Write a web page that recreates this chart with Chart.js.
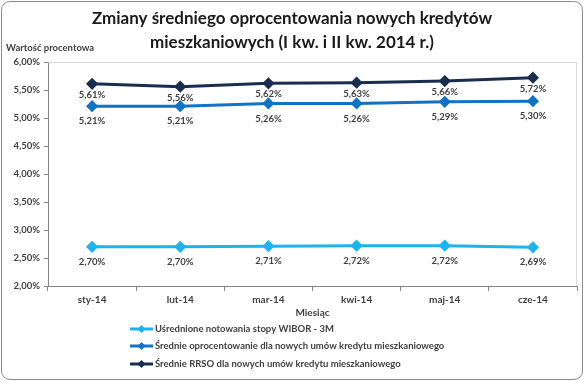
<!DOCTYPE html>
<html>
<head>
<meta charset="utf-8">
<script src="https://cdn.jsdelivr.net/npm/chart.js@4/dist/chart.umd.min.js"></script>
<style>
  html, body { margin: 0; padding: 0; background: #fff; }
  #wrap {
    position: absolute; left: 1px; top: 1px;
    width: 580px; height: 377px;
    border: 1.5px solid #8c8c8c; border-radius: 9px;
    overflow: hidden; background: #fff;
  }
  canvas { position: absolute; left: -2px; top: -2px; }
</style>
</head>
<body>
<div id="wrap"><canvas id="chart" width="585" height="382"></canvas></div>
<script>
const months = ['sty-14', 'lut-14', 'mar-14', 'kwi-14', 'maj-14', 'cze-14'];
const wibor = [2.70, 2.70, 2.71, 2.72, 2.72, 2.69];
const avgRate = [5.21, 5.21, 5.26, 5.26, 5.29, 5.30];
const rrso = [5.61, 5.56, 5.62, 5.63, 5.66, 5.72];
const yTicks = [2.0, 2.5, 3.0, 3.5, 4.0, 4.5, 5.0, 5.5, 6.0];

const titleLines = ['Zmiany średniego oprocentowania nowych kredytów', 'mieszkaniowych (I kw. i II kw. 2014 r.)'];
const yTitle = 'Wartość procentowa';
const xTitle = 'Miesiąc';

const FONT = 'Lato, "Open Sans", sans-serif';
const textColor = '#404040';

const fmt = v => v.toFixed(2).replace('.', ',') + '%';

// labels under each point, offset per series
const labelOffsets = [15, 15, 11];

const extrasPlugin = {
  id: 'extras',
  beforeDatasetsDraw(chart) {
    const { ctx, chartArea: a } = chart;
    ctx.save();
    ctx.strokeStyle = '#d9d9d9';
    ctx.lineWidth = 1;
    ctx.beginPath();
    ctx.moveTo(a.left, a.top + 0.5);
    ctx.lineTo(a.right - 0.5, a.top + 0.5);
    ctx.lineTo(a.right - 0.5, a.bottom);
    ctx.stroke();
    ctx.restore();
  },
  afterDraw(chart) {
    const { ctx, chartArea: a } = chart;
    ctx.save();
    // title
    ctx.fillStyle = '#1a1a1a';
    ctx.textAlign = 'center';
    ctx.textBaseline = 'middle';
    ctx.font = 'bold 17px ' + FONT;
    ctx.fillText(titleLines[0], 292, 19);
    ctx.fillText(titleLines[1], 292, 43);

    // axis titles
    ctx.fillStyle = textColor;
    ctx.font = 'bold 9.5px ' + FONT;
    ctx.textAlign = 'left';
    ctx.fillText(yTitle, 6, 48);
    ctx.font = 'bold 10px ' + FONT;
    ctx.textAlign = 'center';
    ctx.fillText(xTitle, (a.left + a.right) / 2, 313);

    // data labels
    ctx.font = 'bold 9.5px ' + FONT;
    chart.data.datasets.forEach((ds, i) => {
      const meta = chart.getDatasetMeta(i);
      meta.data.forEach((pt, j) => {
        ctx.fillText(fmt(ds.data[j]), pt.x, pt.y + labelOffsets[i]);
      });
    });

    // legend
    const legendY = [329, 346, 364];
    ctx.textAlign = 'left';
    ctx.font = 'bold 9.5px ' + FONT;
    chart.data.datasets.forEach((ds, i) => {
      const y = legendY[i];
      ctx.strokeStyle = ds.borderColor;
      ctx.lineWidth = 3;
      ctx.beginPath();
      ctx.moveTo(130, y);
      ctx.lineTo(153, y);
      ctx.stroke();
      ctx.fillStyle = ds.borderColor;
      ctx.beginPath();
      ctx.moveTo(141.5, y - 4);
      ctx.lineTo(145.5, y);
      ctx.lineTo(141.5, y + 4);
      ctx.lineTo(137.5, y);
      ctx.closePath();
      ctx.fill();
      ctx.fillStyle = textColor;
      ctx.fillText(ds.label, 155, y);
    });
    ctx.restore();
  }
};

const makeSet = (label, data, color) => ({
  label, data,
  borderColor: color,
  backgroundColor: color,
  borderWidth: 3,
  pointStyle: 'rectRot',
  pointRadius: 4,
  pointHoverRadius: 4,
  tension: 0,
  fill: false
});

new Chart(document.getElementById('chart'), {
  type: 'line',
  data: {
    labels: months,
    datasets: [
      makeSet('Uśrednione notowania stopy WIBOR - 3M', wibor, '#1cb3ee'),
      makeSet('Średnie oprocentowanie dla nowych umów kredytu mieszkaniowego', avgRate, '#1272c4'),
      makeSet('Średnie RRSO dla nowych umów kredytu mieszkaniowego', rrso, '#1b2d4f')
    ]
  },
  options: {
    responsive: false,
    animation: false,
    events: [],
    layout: { padding: { top: 62, right: 8, bottom: 66, left: 0 } },
    plugins: { legend: { display: false }, title: { display: false }, tooltip: { enabled: false } },
    scales: {
      x: {
        offset: true,
        grid: { offset: true, drawOnChartArea: false, tickLength: 5, color: '#868686' },
        border: { color: '#868686', width: 1 },
        ticks: { color: textColor, font: { family: FONT, size: 10, weight: 'bold' }, padding: 3, maxRotation: 0 },
        afterFit(s) { s.height = 30; }
      },
      y: {
        min: 2, max: 6,
        afterBuildTicks(s) { s.ticks = yTicks.map(v => ({ value: v })); },
        grid: { drawOnChartArea: false, tickLength: 4, color: '#868686' },
        border: { color: '#868686', width: 1 },
        ticks: { color: textColor, font: { family: FONT, size: 9.5, weight: 'bold' }, padding: 4, callback: v => fmt(v) },
        afterFit(s) { s.width = 48; }
      }
    }
  },
  plugins: [extrasPlugin]
});
</script>
</body>
</html>
